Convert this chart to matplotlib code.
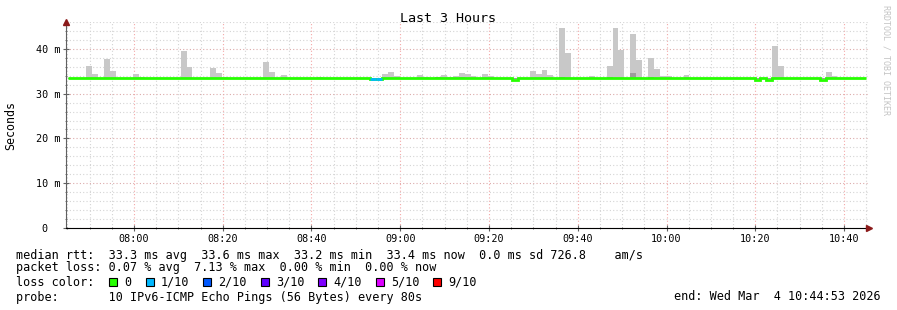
#!/usr/bin/env python
import numpy as np
import matplotlib
matplotlib.use("Agg")
from matplotlib import pyplot as plt
from matplotlib.patches import Rectangle
from matplotlib.ticker import MultipleLocator, FuncFormatter

# one value per 80 s step, minutes relative to 08:00
t_start = -14.82
t_end = 164.88
step = 80 / 60

smoke_max = [
    33.4, 33.4, 33.4, 36.2, 34.4, 33.4, 37.7, 35.0, 33.4, 33.4, 33.4, 34.4, 33.7, 33.4, 33.4,
    33.4, 33.4, 33.4, 33.4, 39.5, 36.0, 33.4, 33.4, 33.4, 35.7, 34.7, 33.7, 33.4, 33.4, 33.4,
    33.4, 33.4, 33.4, 37.1, 34.8, 33.4, 34.2, 33.4, 33.4, 33.4, 33.4, 33.4, 33.7, 33.4, 33.4,
    33.4, 33.4, 33.4, 33.4, 33.4, 33.4, 33.4, 33.4, 34.4, 34.8, 33.9, 33.4, 33.4, 33.4, 34.2,
    33.7, 33.4, 33.7, 34.2, 33.7, 34.0, 34.6, 34.4, 33.9, 33.4, 34.4, 34.0, 33.4, 33.4, 33.4,
    33.4, 33.4, 33.4, 35.0, 34.4, 35.3, 34.2, 33.4, 44.6, 39.1, 33.4, 33.4, 33.4, 33.9, 33.4,
    33.4, 36.2, 44.6, 39.8, 33.4, 43.3, 37.6, 33.4, 38.0, 35.5, 33.9, 33.9, 33.4, 33.4, 34.2,
    33.4, 33.4, 33.4, 33.4, 33.4, 33.4, 33.4, 33.4, 33.4, 33.4, 33.4, 33.4, 33.4, 33.4, 40.6,
    36.2, 33.4, 33.4, 33.4, 33.4, 33.4, 33.4, 33.4, 34.8, 34.0, 33.4, 33.4, 33.4, 33.4, 33.4,
]
smoke_inner = [
    33.4, 33.4, 33.4, 33.4, 33.4, 33.4, 33.4, 33.4, 33.4, 33.4, 33.4, 33.4, 33.4, 33.4, 33.4,
    33.4, 33.4, 33.4, 33.4, 33.4, 33.4, 33.4, 33.4, 33.4, 33.4, 33.4, 33.4, 33.4, 33.4, 33.4,
    33.4, 33.4, 33.4, 33.4, 33.4, 33.4, 33.4, 33.4, 33.4, 33.4, 33.4, 33.4, 33.4, 33.4, 33.4,
    33.4, 33.4, 33.4, 33.4, 33.4, 33.4, 33.4, 33.4, 33.4, 33.4, 33.4, 33.4, 33.4, 33.4, 33.4,
    33.4, 33.4, 33.8, 33.4, 33.4, 33.4, 33.8, 33.4, 33.4, 33.4, 33.4, 33.4, 33.4, 33.4, 33.4,
    33.4, 33.4, 33.4, 33.4, 33.4, 33.4, 33.4, 33.4, 33.8, 33.4, 33.4, 33.4, 33.4, 33.4, 33.4,
    33.4, 33.8, 33.4, 33.4, 33.4, 34.6, 33.4, 33.4, 33.8, 33.4, 33.4, 33.4, 33.4, 33.4, 33.4,
    33.4, 33.4, 33.4, 33.4, 33.4, 33.4, 33.4, 33.4, 33.4, 33.4, 33.4, 33.4, 33.4, 33.4, 33.4,
    33.4, 33.4, 33.4, 33.4, 33.4, 33.4, 33.4, 33.4, 33.4, 33.4, 33.4, 33.4, 33.4, 33.4, 33.4,
]
median = [
    33.4, 33.4, 33.4, 33.4, 33.4, 33.4, 33.4, 33.4, 33.4, 33.4, 33.4, 33.4, 33.4, 33.4, 33.4,
    33.4, 33.4, 33.4, 33.4, 33.4, 33.4, 33.6, 33.4, 33.4, 33.4, 33.4, 33.4, 33.4, 33.4, 33.4,
    33.4, 33.4, 33.4, 33.4, 33.4, 33.4, 33.4, 33.4, 33.4, 33.4, 33.4, 33.4, 33.4, 33.4, 33.4,
    33.4, 33.4, 33.4, 33.4, 33.4, 33.4, 33.3, 33.3, 33.4, 33.4, 33.4, 33.4, 33.4, 33.4, 33.4,
    33.4, 33.4, 33.4, 33.4, 33.4, 33.4, 33.4, 33.4, 33.4, 33.4, 33.4, 33.4, 33.4, 33.6, 33.4,
    33.0, 33.4, 33.4, 33.4, 33.4, 33.4, 33.4, 33.4, 33.4, 33.4, 33.4, 33.4, 33.4, 33.4, 33.4,
    33.4, 33.4, 33.4, 33.4, 33.4, 33.4, 33.4, 33.4, 33.4, 33.4, 33.4, 33.4, 33.4, 33.4, 33.4,
    33.4, 33.4, 33.4, 33.4, 33.4, 33.4, 33.4, 33.4, 33.6, 33.6, 33.4, 33.0, 33.4, 33.0, 33.4,
    33.4, 33.4, 33.4, 33.4, 33.4, 33.4, 33.4, 33.0, 33.4, 33.4, 33.4, 33.4, 33.4, 33.4, 33.4,
]
loss = [
    0, 0, 0, 0, 0, 0, 0, 0, 0, 0, 0, 0, 0, 0, 0,
    0, 0, 0, 0, 0, 0, 0, 0, 0, 0, 0, 0, 0, 0, 0,
    0, 0, 0, 0, 0, 0, 0, 0, 0, 0, 0, 0, 0, 0, 0,
    0, 0, 0, 0, 0, 0, 1, 1, 0, 0, 0, 0, 0, 0, 0,
    0, 0, 0, 0, 0, 0, 0, 0, 0, 0, 0, 0, 0, 0, 0,
    0, 0, 0, 0, 0, 0, 0, 0, 0, 0, 0, 0, 0, 0, 0,
    0, 0, 0, 0, 0, 0, 0, 0, 0, 0, 0, 0, 0, 0, 0,
    0, 0, 0, 0, 0, 0, 0, 0, 0, 0, 0, 0, 0, 0, 0,
    0, 0, 0, 0, 0, 0, 0, 0, 0, 0, 0, 0, 0, 0, 0,
]
smoke_min = 33.2

loss_labels = ["0", "1/10", "2/10", "3/10", "4/10", "5/10", "9/10"]
loss_colors = ["#26ff00", "#00b8ff", "#0059ff", "#5e00ff", "#7e00ff", "#dd00ff", "#ff0000"]

rtt_line = "median rtt:  33.3 ms avg  33.6 ms max  33.2 ms min  33.4 ms now  0.0 ms sd 726.8    am/s"
loss_line = "packet loss: 0.07 % avg  7.13 % max  0.00 % min  0.00 % now"
probe_line = "probe:       10 IPv6-ICMP Echo Pings (56 Bytes) every 80s"
end_text = "end: Wed Mar  4 10:44:53 2026"

W, H = 897, 310
plt.rcParams["font.family"] = "DejaVu Sans Mono"


def px(x, y):
    return x / W, 1 - y / H


fig = plt.figure(figsize=(W / 100, H / 100), dpi=100)
fig.patch.set_facecolor("white")
ax = fig.add_axes([66 / W, (H - 228) / H, (869 - 66) / W, (228 - 22) / H])

n = len(median)
edges = t_start + np.arange(n + 1) * step
edges[-1] = min(edges[-1], t_end)

ax.stairs(smoke_max, edges, baseline=smoke_min, fill=True, color="#c8c8c8", zorder=2)
ax.stairs(smoke_inner, edges, baseline=smoke_min, fill=True, color="#9c9c9c", zorder=2)
ax.stairs(median, edges, baseline=None, color=loss_colors[0], linewidth=2.0, zorder=3)
for i, l in enumerate(loss):
    if l > 0:
        ax.hlines(median[i], edges[i], edges[i + 1], colors=loss_colors[l], linewidth=2.0, zorder=4)

ax.set_xlim(-15.32, 165.63)
ax.set_ylim(0, 46.0)

ax.xaxis.set_major_locator(MultipleLocator(20))
ax.xaxis.set_minor_locator(MultipleLocator(5))
ax.yaxis.set_major_locator(MultipleLocator(10))
ax.yaxis.set_minor_locator(MultipleLocator(2))
ax.xaxis.set_major_formatter(FuncFormatter(lambda v, p: "%02d:%02d" % (8 + int(v) // 60, int(v) % 60)))
ax.yaxis.set_major_formatter(FuncFormatter(lambda v, p: "0  " if v == 0 else "%d m" % v))

ax.grid(which="minor", color="#d4d4d4", linestyle=(0, (1, 2)), linewidth=0.8, zorder=0)
ax.grid(which="major", axis="x", color="#f4a8a8", linestyle=(0, (1, 2)), linewidth=0.8, zorder=0)
ax.grid(which="major", axis="y", color="#dcaaaa", linestyle=(0, (1, 2)), linewidth=0.8, zorder=0)
ax.set_axisbelow(True)

for s in ["top", "right"]:
    ax.spines[s].set_visible(False)
ax.spines["left"].set_color("#606060")
ax.spines["bottom"].set_color("black")
ax.tick_params(which="both", direction="inout", colors="#606060", labelcolor="black", labelsize=7.3)
ax.tick_params(which="major", length=4, width=0.8)
ax.tick_params(which="minor", length=2, width=0.6)
ax.tick_params(axis="y", pad=2)
ax.tick_params(axis="x", pad=2)

ax.plot([-15.32], [46.0], marker="^", color="#8b1a1a", markersize=4, clip_on=False, zorder=5)
ax.plot([165.63], [0], marker=">", color="#8b1a1a", markersize=4, clip_on=False, zorder=5)

fig.text(*px(448, 19), "Last 3 Hours", ha="center", va="center", fontsize=9.6)
fig.text(*px(11, 126), "Seconds", ha="center", va="center", rotation=90, fontsize=8.4)
fig.text(*px(886, 60), "RRDTOOL / TOBI OETIKER", ha="center", va="center", rotation=270,
         fontsize=6, color="#c4c4c4")

# legend rows
fs = 8.5
fig.text(*px(16, 255), rtt_line, va="center", fontsize=fs)
fig.text(*px(16, 268), loss_line, va="center", fontsize=fs)
fig.text(*px(16, 282), "loss color:", va="center", fontsize=fs)
for bx, lab, c in zip([109, 146, 203, 261, 318, 376, 433], loss_labels, loss_colors):
    fig.add_artist(Rectangle(px(bx, 286), 8 / W, 8 / H, transform=fig.transFigure,
                             facecolor=c, edgecolor="black", linewidth=0.8))
    fig.text(*px(bx + 15, 282), lab, va="center", fontsize=fs)
fig.text(*px(16, 297), probe_line, va="center", fontsize=fs)
fig.text(*px(881, 297), end_text, ha="right", va="center", fontsize=fs)

fig.savefig("out.png", dpi=100, facecolor="white")
